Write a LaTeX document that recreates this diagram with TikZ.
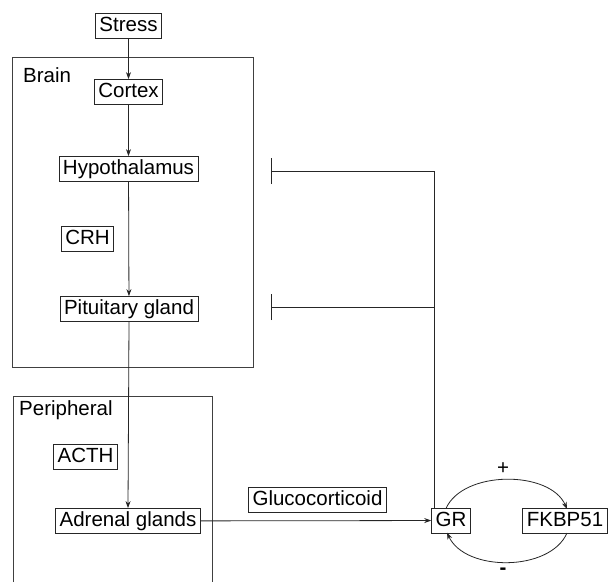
\documentclass[tikz,border=0pt]{standalone}
\usepackage{fontspec}
\setmainfont{Liberation Sans}
\usetikzlibrary{arrows.meta}
\begin{document}
\begin{tikzpicture}[x=1pt,y=-1pt,
  every node/.style={font=\fontsize{20.5}{23}\selectfont},
  box/.style={draw=black!85,line width=0.8pt,inner xsep=4pt,inner ysep=0pt,minimum height=25pt,text height=15pt,text depth=4pt},
  lbl/.style={inner sep=0pt},
  region/.style={draw=black!75,line width=0.9pt},
  conn/.style={draw=black!85,line width=0.8pt},
  arr/.style={conn,-{Stealth[length=7pt,width=5pt]}},
  inhib/.style={conn,-{Bar[width=26pt,line width=0.9pt]}}
]
\useasboundingbox (0,0) rectangle (611,582);
% regions
\draw[region] (12,57) rectangle (253,367);
\draw[region] (13,582) -- (13,396) -- (212,396) -- (212,582);
\node[lbl,anchor=west] (brain) at (23,75) {Brain};
\node[lbl,anchor=west] (periph) at (19,410) {Peripheral};
% nodes
\node[box] (stress) at (128.5,26) {Stress};
\node[box] (cortex) at (128.5,92) {Cortex};
\node[box] (hypo) at (128.5,169) {Hypothalamus};
\node[box] (crh) at (87.5,239) {CRH};
\node[box] (pit) at (129,309) {Pituitary gland};
\node[box] (acth) at (85.5,457) {ACTH};
\node[box] (adr) at (128,521) {Adrenal glands};
\node[box] (gluc) at (317.5,499.5) {Glucocorticoid};
\node[box] (gr) at (451,520.5) {GR};
\node[box] (fkbp) at (565,521) {FKBP51};
% connectors
\draw[arr] (stress) -- (cortex);
\draw[arr] (cortex) -- (hypo);
\draw[arr] (hypo) -- (pit);
\draw[arr] (pit.south) -- (adr.north);
\draw[arr] (adr) -- (gr);
\coordinate (grtop) at (434,508.5);
\coordinate (g1) at (434,171);
\coordinate (g2) at (434,307);
\coordinate (b1) at (271,171);
\coordinate (b2) at (271,307);
\draw[conn] (grtop) -- (g1);
\draw[inhib] (g1) -- (b1);
\draw[inhib] (g2) -- (b2);
\coordinate (grn) at (446,508.5);
\coordinate (fkn) at (567,509);
\coordinate (fks) at (567,533);
\coordinate (grs) at (447,532.5);
\draw[arr] (grn) .. controls (463,470) and (550,470) .. (fkn);
\draw[arr] (fks) .. controls (550,572) and (465,572) .. (grs);
\node[lbl] (plus) at (503,469) {+};
\node[lbl,font=\fontsize{20.5}{23}\bfseries] (minus) at (503,571) {-};
\end{tikzpicture}
\end{document}
